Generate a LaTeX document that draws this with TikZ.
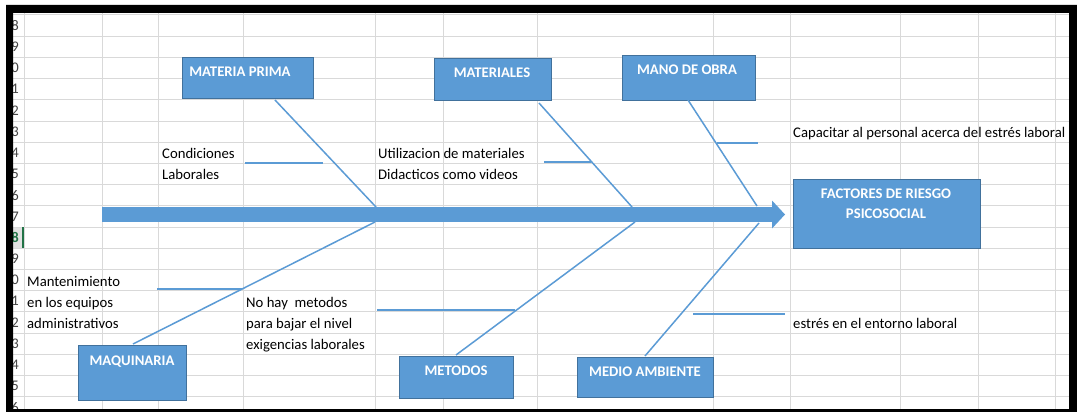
\documentclass[tikz,border=0pt]{standalone}
\usepackage{fontspec}
\setmainfont{Carlito}
\usetikzlibrary{arrows.meta}
\definecolor{boxblue}{HTML}{5B9BD5}
\definecolor{boxline}{HTML}{41719C}
\definecolor{gridgray}{HTML}{D9D9D9}
\definecolor{headgray}{HTML}{E2E2E2}
\definecolor{selgreen}{HTML}{217346}
\definecolor{rowtxt}{HTML}{444444}

\begin{document}
\begin{tikzpicture}[x=1pt, y=-1pt,
  box/.style={draw=boxline, fill=boxblue, line width=0.8pt, anchor=north west, inner sep=0pt},
  boxtext/.style={text=white, font=\fontsize{14.7}{20}\selectfont\bfseries, inner sep=0pt, anchor=base},
  cause/.style={font=\fontsize{14.7}{18}\selectfont, inner sep=0pt, anchor=base west},
  rowno/.style={font=\fontsize{14.7}{18}\selectfont, text=rowtxt, inner sep=0pt, anchor=east},
  bone/.style={draw=boxblue, line width=1.5pt},
  spine/.style={draw=boxblue, line width=15pt, -{Triangle[length=13pt, width=28pt, line width=0pt]}}]
  \useasboundingbox (0,0) rectangle (1077,412);
  % sheet
  \fill[white] (0,0) rectangle (1077,412);
  \foreach \k in {0,...,18}
    \draw[gridgray, line width=1pt] (13,{15+21.2*\k}) -- (1069,{15+21.2*\k});
  \foreach \x in {24,102,158,243,375,443,537,713,790,900,978,1055}
    \draw[gridgray, line width=1pt] (\x,13) -- (\x,409);
  \foreach \d [count=\k from 0] in {8,9,0,1,2,3,4,5,6,7,8,9,0,1,2,3,4,5,6}
    \node[rowno] at (19,{25.6+21.2*\k}) (r\k) {\d};
  \fill[headgray] (13,227.5) rectangle (23,247.7);
  \node[rowno, text=selgreen, font=\fontsize{14.7}{18}\selectfont\bfseries] at (19,237.6) (rsel) {8};
  \draw[selgreen, line width=2pt] (23,227) -- (23,248.2);
  \fill[black, even odd rule] (6,5) rectangle (1077,412) (13,13) rectangle (1069,409);

  % boxes
  \node[box, minimum width=131, minimum height=41] at (182,57) (mp) {};
  \node[boxtext] at (240,76.7) (mpt) {MATERIA PRIMA};
  \node[box, minimum width=117, minimum height=42] at (434,58) (mat) {};
  \node[boxtext] at (492,77.7) (matt) {MATERIALES};
  \node[box, minimum width=133, minimum height=45] at (622,55) (mo) {};
  \node[boxtext] at (687,74.7) (mot) {MANO DE OBRA};
  \node[box, minimum width=187, minimum height=69] at (793,179) (frp) {};
  \node[boxtext] at (886,198.7) (frpa) {FACTORES DE RIESGO};
  \node[boxtext] at (886,218.7) (frpb) {PSICOSOCIAL};
  \node[box, minimum width=108, minimum height=55] at (78,345) (maq) {};
  \node[boxtext] at (132,365.7) (maqt) {MAQUINARIA};
  \node[box, minimum width=114, minimum height=42] at (399,356) (met) {};
  \node[boxtext] at (456,375.7) (mett) {METODOS};
  \node[box, minimum width=136, minimum height=40] at (577,357) (ma) {};
  \node[boxtext] at (645,376.7) (mat2) {MEDIO AMBIENTE};

  % spine
  \coordinate (tail) at (102,214.5);
  \coordinate (tip) at (785,214.5);
  \draw[spine] (tail) -- (tip);

  % bones
  \coordinate (mpa) at (275,100);
  \coordinate (mpb) at (376,207);
  \coordinate (mata) at (539,103);
  \coordinate (matb) at (632,207);
  \coordinate (moa) at (688,100);
  \coordinate (mob) at (757,206);
  \coordinate (maqa) at (133,344);
  \coordinate (maqb) at (375,222);
  \coordinate (meta) at (456,355);
  \coordinate (metb) at (635,222);
  \coordinate (maa) at (645,356);
  \coordinate (mab) at (759,223);
  \draw[bone] (mpa) -- (mpb);
  \draw[bone] (mata) -- (matb);
  \draw[bone] (moa) -- (mob);
  \draw[bone] (maqa) -- (maqb);
  \draw[bone] (meta) -- (metb);
  \draw[bone] (maa) -- (mab);

  % small bones
  \coordinate (c1a) at (245,163);
  \coordinate (c1b) at (323,163);
  \coordinate (c2a) at (544,162);
  \coordinate (c2b) at (591,162);
  \coordinate (c3a) at (717,143);
  \coordinate (c3b) at (758,143);
  \coordinate (c4a) at (157,289);
  \coordinate (c4b) at (242,289);
  \coordinate (c5a) at (377,310);
  \coordinate (c5b) at (515,310);
  \coordinate (c6a) at (693,314);
  \coordinate (c6b) at (785,314);
  \draw[bone] (c1a) -- (c1b);
  \draw[bone] (c2a) -- (c2b);
  \draw[bone] (c3a) -- (c3b);
  \draw[bone] (c4a) -- (c4b);
  \draw[bone] (c5a) -- (c5b);
  \draw[bone] (c6a) -- (c6b);

  % causes
  \node[cause] at (162,158.7) (cl1) {Condiciones};
  \node[cause] at (162,179.7) (cl2) {Laborales};
  \node[cause] at (378,158.7) (um1) {Utilizacion de materiales};
  \node[cause] at (378,179.7) (um2) {Didacticos como videos};
  \node[cause] at (793,137.7) (cap) {Capacitar al personal acerca del estrés laboral};
  \node[cause] at (27,286.7) (me1) {Mantenimiento};
  \node[cause] at (27,307.7) (me2) {en los equipos};
  \node[cause] at (27,328.7) (me3) {administrativos};
  \node[cause] at (246,307.7) (nh1) {No hay~ metodos};
  \node[cause] at (246,328.7) (nh2) {para bajar el nivel};
  \node[cause] at (246,349.7) (nh3) {exigencias laborales};
  \node[cause] at (793,328.7) (est) {estrés en el entorno laboral};
\end{tikzpicture}
\end{document}
